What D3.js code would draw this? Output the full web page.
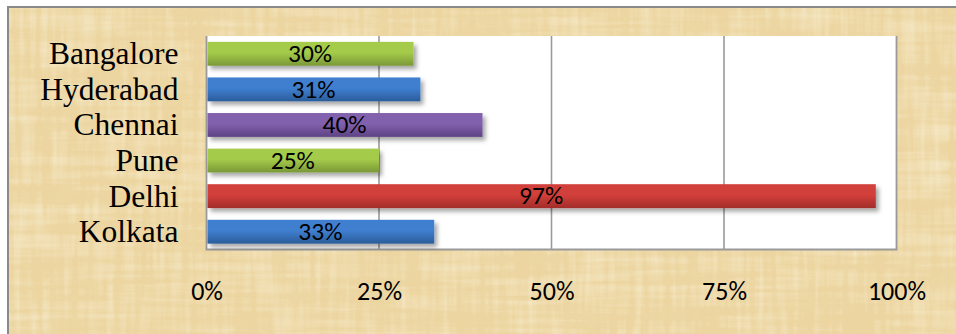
<!DOCTYPE html>
<html>
<head>
<meta charset="utf-8">
<script src="https://cdn.jsdelivr.net/npm/d3@7/dist/d3.min.js"></script>
<style>
  html, body { margin: 0; padding: 0; background: #ffffff; }
  svg { display: block; }
</style>
</head>
<body>
<svg id="chart" width="956" height="334"></svg>
<script>
// Share of respondents by city
const cities = ["Bangalore", "Hyderabad", "Chennai", "Pune", "Delhi", "Kolkata"];
const shares = [0.30, 0.31, 0.40, 0.25, 0.97, 0.33];
const barColors = ["green", "blue", "purple", "green", "red", "blue"];
const tickValues = [0, 0.25, 0.5, 0.75, 1];

const palette = {
  green:  { top: "#a4cb4a", bottom: "#7a9838" },
  blue:   { top: "#3f7fd0", bottom: "#2b5c9a" },
  purple: { top: "#8160ad", bottom: "#5e4384" },
  red:    { top: "#d23f3a", bottom: "#a22d2a" }
};

const W = 956, H = 334;
const plot = { left: 206.5, top: 36, right: 896.5, bottom: 249.5 };

const svg = d3.select("#chart");
const defs = svg.append("defs");

// Papyrus-like texture: fine fibrous streaks in both directions
function papyrusFilter(id, seeds, rgb, alphaGain, alphaBias) {
  const f = defs.append("filter").attr("id", id)
    .attr("x", 0).attr("y", 0).attr("width", 1).attr("height", 1);
  f.append("feTurbulence").attr("type", "fractalNoise")
    .attr("baseFrequency", "0.008 0.14").attr("numOctaves", 3).attr("seed", seeds[0]).attr("result", "v");
  f.append("feTurbulence").attr("type", "fractalNoise")
    .attr("baseFrequency", "0.14 0.01").attr("numOctaves", 3).attr("seed", seeds[1]).attr("result", "h");
  f.append("feTurbulence").attr("type", "fractalNoise")
    .attr("baseFrequency", "0.02 0.02").attr("numOctaves", 2).attr("seed", seeds[2]).attr("result", "blot");
  f.append("feComposite").attr("in", "v").attr("in2", "h")
    .attr("operator", "arithmetic").attr("k2", 0.5).attr("k3", 0.5).attr("result", "vh");
  f.append("feComposite").attr("in", "vh").attr("in2", "blot")
    .attr("operator", "arithmetic").attr("k2", 0.75).attr("k3", 0.25).attr("result", "mix");
  f.append("feColorMatrix").attr("in", "mix").attr("type", "matrix")
    .attr("values",
      `0 0 0 0 ${rgb[0]} ` +
      `0 0 0 0 ${rgb[1]} ` +
      `0 0 0 0 ${rgb[2]} ` +
      `${alphaGain} 0 0 0 ${alphaBias}`)
    .attr("result", "shade");
  f.append("feComposite").attr("in", "shade").attr("in2", "SourceGraphic").attr("operator", "in");
}
papyrusFilter("papyrusDark", [4, 9, 2], [0.84, 0.70, 0.40], -1.8, 0.95);
papyrusFilter("papyrusLight", [13, 21, 7], [0.97, 0.91, 0.74], 1.8, -0.80);

// Bar shadow
const shadow = defs.append("filter").attr("id", "barShadow")
  .attr("x", "-5%").attr("y", "-30%").attr("width", "115%").attr("height", "190%");
shadow.append("feDropShadow").attr("dx", 3).attr("dy", 3.5).attr("stdDeviation", 2.2)
  .attr("flood-color", "#000").attr("flood-opacity", 0.35);

// Vertical gradients for each bar colour
Object.entries(palette).forEach(([k, c]) => {
  const g = defs.append("linearGradient").attr("id", "grad-" + k)
    .attr("x1", 0).attr("y1", 0).attr("x2", 0).attr("y2", 1);
  g.append("stop").attr("offset", "0%").attr("stop-color", c.top);
  g.append("stop").attr("offset", "45%").attr("stop-color", c.top);
  g.append("stop").attr("offset", "100%").attr("stop-color", c.bottom);
});

// Chart area background
const frame = { x: 8, y: 7, w: W + 10, h: H + 10 };
const bg = () => svg.append("rect").attr("x", frame.x).attr("y", frame.y)
  .attr("width", frame.w).attr("height", frame.h);
bg().attr("fill", "#ecd5a0");
bg().attr("fill", "#ecd5a0").attr("filter", "url(#papyrusDark)");
bg().attr("fill", "#ecd5a0").attr("filter", "url(#papyrusLight)");
bg().attr("fill", "none").attr("stroke", "#8a8a8a").attr("stroke-width", 2);

// Scales
const x = d3.scaleLinear().domain([0, 1]).range([plot.left, plot.right]);
const y = d3.scaleBand().domain(cities).range([plot.top, plot.bottom])
  .paddingInner(0.33).paddingOuter(0.165);

// Plot area
svg.append("rect").attr("x", plot.left).attr("y", plot.top)
  .attr("width", plot.right - plot.left).attr("height", plot.bottom - plot.top)
  .attr("fill", "#ffffff");

// Vertical gridlines
svg.append("g").selectAll("line")
  .data(tickValues.slice(1, -1)).join("line")
  .attr("x1", d => x(d)).attr("x2", d => x(d))
  .attr("y1", plot.top).attr("y2", plot.bottom)
  .attr("stroke", "#9a9a9a").attr("stroke-width", 1.6);

// Plot border (left, right, bottom)
svg.append("path")
  .attr("d", `M${plot.left},${plot.top}V${plot.bottom}H${plot.right}V${plot.top}`)
  .attr("fill", "none").attr("stroke", "#9a9a9a").attr("stroke-width", 1.8);

// Bars
const rows = cities.map((c, i) => ({ city: c, value: shares[i], color: barColors[i] }));
const barG = svg.append("g");
barG.selectAll("rect").data(rows).join("rect")
  .attr("x", x(0) + 1)
  .attr("y", d => y(d.city))
  .attr("width", d => x(d.value) - x(0) - 1)
  .attr("height", y.bandwidth())
  .attr("fill", d => `url(#grad-${d.color})`)
  .attr("filter", "url(#barShadow)");

// Value labels centred in bars
const fmt = d3.format(".0%");
barG.selectAll("text").data(rows).join("text")
  .attr("x", d => (x(0) + x(d.value)) / 2)
  .attr("y", d => y(d.city) + y.bandwidth() / 2 + 8.3)
  .attr("text-anchor", "middle")
  .attr("font-family", "Carlito, Calibri, Lato, sans-serif")
  .attr("font-size", 25.5)
  .attr("fill", "#000")
  .text(d => fmt(d.value));

// Category axis
const yAxis = svg.append("g")
  .attr("transform", `translate(${plot.left},0)`)
  .call(d3.axisLeft(y).tickSize(0).tickPadding(28));
yAxis.select(".domain").remove();
yAxis.selectAll("text")
  .attr("font-family", "'Liberation Serif', 'Times New Roman', serif")
  .attr("font-size", 31.5)
  .attr("fill", "#000")
  .attr("dy", "0.33em");

// Value axis
const xAxis = svg.append("g")
  .attr("transform", `translate(0,${plot.bottom})`)
  .call(d3.axisBottom(x).tickValues(tickValues).tickFormat(fmt).tickSize(0).tickPadding(32));
xAxis.select(".domain").remove();
xAxis.selectAll("text")
  .attr("font-family", "Carlito, Calibri, Lato, sans-serif")
  .attr("font-size", 26)
  .attr("fill", "#000");
</script>
</body>
</html>
